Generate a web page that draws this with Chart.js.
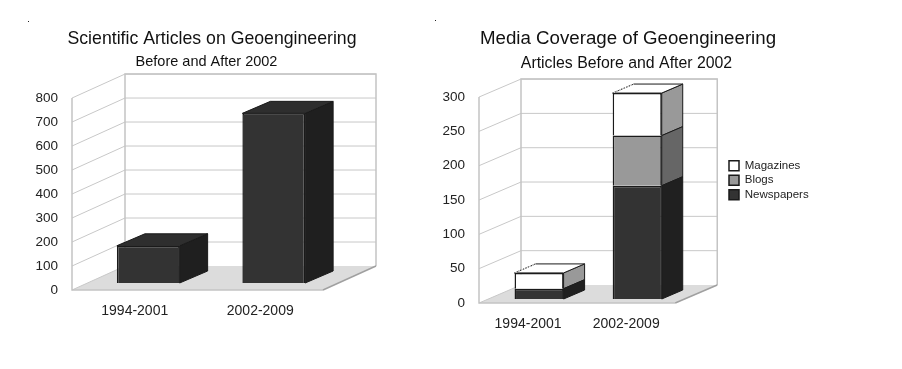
<!DOCTYPE html>
<html>
<head>
<meta charset="utf-8">
<title>Geoengineering charts</title>
<script src="https://cdn.jsdelivr.net/npm/chart.js@4"></script>
<style>
  html, body { margin: 0; padding: 0; background: #fff; }
  canvas { position: absolute; top: 0; }
  #leftChart { left: 0; }
  #rightChart { left: 436px; }
  .speck { position: absolute; width: 1px; height: 1px; background: #222; }
</style>
</head>
<body>
<canvas id="leftChart" width="424" height="369"></canvas>
<canvas id="rightChart" width="384" height="369"></canvas>
<div class="speck" style="left:28px;top:21px"></div>
<div class="speck" style="left:435px;top:20px"></div>

<script>
var periods = ["1994-2001", "2002-2009"];

var scientificArticles = [155, 707];
var scientificTicks = [0, 100, 200, 300, 400, 500, 600, 700, 800];

var newspapers = [15, 165];
var blogs = [0, 73];
var magazines = [23, 62];
var mediaTicks = [0, 50, 100, 150, 200, 250, 300];

// draws the fake 3D box: walls and floor behind, bar sides and tops, and moves the bars back a bit
var fake3d = {
  id: "fake3d",
  afterLayout: function (chart, args, opts) {
    // legend and titles get nudged to where they sit in the picture
    if (opts.legendAt && chart.legend) {
      chart.legend.left = opts.legendAt[0];
      chart.legend.right = opts.legendAt[0] + 120;
      chart.legend.top = opts.legendAt[1];
    }
    chart.boxes.forEach(function (box) {
      if (!box.options) return;
      var shift = 0;
      if (box.options.text === opts.titleText) shift = opts.titleShift;
      if (box.options.text === opts.subtitleText) shift = opts.subtitleShift;
      box.left += shift;
      box.right += shift;
    });
  },
  beforeDatasetsDraw: function (chart, args, opts) {
    var ctx = chart.ctx;
    var y = chart.scales.y;
    var area = chart.chartArea;
    var left = area.left, right = area.right;
    var y0 = y.getPixelForValue(y.min);
    var yMax = y.getPixelForValue(y.max);
    var dx = opts.wallDx, dy = opts.wallDy;

    ctx.save();
    // floor
    ctx.fillStyle = "#dcdcdc";
    poly(ctx, [[left, y0], [left + dx, y0 + dy], [right + dx, y0 + dy], [right, y0]]);
    ctx.fill();

    // grid on side wall and back wall
    ctx.strokeStyle = "#c8c8c8";
    ctx.lineWidth = 1;
    opts.ticks.forEach(function (t) {
      var py = y.getPixelForValue(t);
      ctx.beginPath();
      ctx.moveTo(left, py);
      ctx.lineTo(left + dx, py + dy);
      if (t !== y.min) ctx.lineTo(right + dx, py + dy);
      ctx.stroke();
    });

    // wall outlines
    ctx.strokeStyle = "#c4c4c4";
    ctx.lineWidth = 1.5;
    ctx.beginPath();
    ctx.moveTo(left + dx, y0 + dy);
    ctx.lineTo(left + dx, yMax + dy);
    ctx.lineTo(right + dx, yMax + dy);
    ctx.lineTo(right + dx, y0 + dy);
    ctx.stroke();
    ctx.beginPath();
    ctx.moveTo(left, yMax);
    ctx.lineTo(left, y0);
    ctx.lineTo(right, y0);
    ctx.stroke();
    ctx.strokeStyle = "#a0a0a0";
    ctx.beginPath();
    ctx.moveTo(right, y0);
    ctx.lineTo(right + dx, y0 + dy);
    ctx.stroke();

    // bar sides and tops
    var topDone = {};
    for (var d = chart.data.datasets.length - 1; d >= 0; d--) {
      var meta = chart.getDatasetMeta(d);
      meta.data.forEach(function (bar, i) {
        if (!chart.data.datasets[d].data[i]) return;
        var xr = bar.x + bar.width / 2 + opts.shiftX;
        var xl = bar.x - bar.width / 2 + opts.shiftX;
        var top = bar.y + opts.shiftY;
        var bottom = bar.base + opts.shiftY;
        ctx.lineWidth = 1;
        ctx.strokeStyle = "#1a1a1a";
        ctx.fillStyle = opts.sideColors[d];
        poly(ctx, [[xr, top], [xr + opts.sideDx, top + opts.sideDy], [xr + opts.sideDx, bottom + opts.sideDy], [xr, bottom]]);
        ctx.fill();
        ctx.stroke();
        if (!topDone[i]) {
          topDone[i] = true;
          ctx.fillStyle = opts.topColors[d];
          poly(ctx, [[xl, top], [xl + opts.sideDx, top + opts.sideDy], [xr + opts.sideDx, top + opts.sideDy], [xr, top]]);
          ctx.fill();
          ctx.stroke();
          if (opts.topColors[d] === "#ffffff") {
            // the white lid has a dotted left edge
            ctx.strokeStyle = "#ffffff";
            ctx.beginPath();
            ctx.moveTo(xl, top);
            ctx.lineTo(xl + opts.sideDx, top + opts.sideDy);
            ctx.stroke();
            ctx.strokeStyle = "#1a1a1a";
            ctx.setLineDash([1, 2]);
            ctx.stroke();
            ctx.setLineDash([]);
          }
        }
      });
    }
    ctx.restore();
  },
  beforeDatasetDraw: function (chart, args, opts) {
    chart.ctx.save();
    chart.ctx.translate(opts.shiftX, opts.shiftY);
  },
  afterDatasetDraw: function (chart) {
    chart.ctx.restore();
  }
};

function poly(ctx, pts) {
  ctx.beginPath();
  ctx.moveTo(pts[0][0], pts[0][1]);
  for (var i = 1; i < pts.length; i++) {
    ctx.lineTo(pts[i][0], pts[i][1]);
  }
  ctx.closePath();
}

function makeChart(id, cfg) {
  var ctx = document.getElementById(id);
  return new Chart(ctx, {
    type: "bar",
    data: { labels: periods, datasets: cfg.datasets },
    plugins: [fake3d],
    options: {
      responsive: false,
      animation: false,
      layout: { padding: { left: 0, top: 0, bottom: 0, right: cfg.paddingRight } },
      scales: {
        x: {
          stacked: true,
          grid: { display: false },
          border: { display: false },
          ticks: { padding: cfg.xTickPad, color: "#222", font: { family: "Liberation Sans", size: 14 }, maxRotation: 0 },
          afterFit: function (scale) { scale.height = 369 - cfg.bottom; }
        },
        y: {
          stacked: true,
          min: cfg.ticks[0],
          max: cfg.ticks[cfg.ticks.length - 1],
          grid: { display: false, drawTicks: false },
          border: { display: false },
          ticks: { stepSize: cfg.ticks[1] - cfg.ticks[0], padding: 14, color: "#222", font: { family: "Liberation Sans", size: 13.5 } },
          afterFit: function (scale) { scale.width = cfg.yWidth; }
        }
      },
      plugins: {
        title: {
          display: true,
          text: cfg.title,
          color: "#111",
          font: { family: "Liberation Sans", size: cfg.titleSize, weight: "normal" },
          padding: { top: cfg.titleTop, bottom: cfg.titleBottom }
        },
        subtitle: {
          display: true,
          text: cfg.subtitle,
          color: "#111",
          font: { family: "Liberation Sans", size: cfg.subtitleSize, weight: "normal" },
          padding: { top: 0, bottom: cfg.subtitlePad }
        },
        legend: cfg.legend,
        tooltip: { enabled: false },
        fake3d: {
          ticks: cfg.ticks,
          wallDx: cfg.wallDx, wallDy: cfg.wallDy,
          shiftX: cfg.shiftX, shiftY: cfg.shiftY,
          sideDx: cfg.sideDx, sideDy: cfg.sideDy,
          sideColors: cfg.sideColors, topColors: cfg.topColors,
          legendAt: cfg.legendAt,
          titleText: cfg.title, titleShift: cfg.titleShift,
          subtitleText: cfg.subtitle, subtitleShift: cfg.subtitleShift
        }
      }
    }
  });
}

function barSet(label, values, color) {
  return {
    label: label,
    data: values,
    backgroundColor: color,
    borderColor: "#1a1a1a",
    borderWidth: 1.5,
    categoryPercentage: 0.5,
    barPercentage: 1
  };
}

makeChart("leftChart", {
  title: "Scientific Articles on Geoengineering",
  subtitle: "Before and After 2002",
  titleSize: 17.7, subtitleSize: 14.5,
  titleTop: 28.5, titleBottom: 3.6,
  titleShift: 50.5, subtitleShift: 45,
  subtitlePad: 27.3,
  datasets: [barSet("Articles", scientificArticles, "#333333")],
  ticks: scientificTicks,
  yWidth: 72, bottom: 290, paddingRight: 101, xTickPad: 5,
  wallDx: 53, wallDy: -24,
  shiftX: 13.5, shiftY: -7,
  sideDx: 28, sideDy: -12,
  sideColors: ["#1f1f1f"], topColors: ["#2e2e2e"],
  legend: { display: false }
});

makeChart("rightChart", {
  title: "Media Coverage of Geoengineering",
  subtitle: "Articles Before and After 2002",
  titleSize: 18.7, subtitleSize: 15.85,
  titleTop: 28, titleBottom: 4,
  titleShift: 32.5, subtitleShift: 31,
  subtitlePad: 23.6,
  datasets: [
    barSet("Newspapers", newspapers, "#333333"),
    barSet("Blogs", blogs, "#999999"),
    barSet("Magazines", magazines, "#ffffff")
  ],
  ticks: mediaTicks,
  yWidth: 43, bottom: 303, paddingRight: 65, xTickPad: 4.5,
  wallDx: 42, wallDy: -18,
  shiftX: 11, shiftY: -4,
  sideDx: 21, sideDy: -9,
  sideColors: ["#202020", "#666666", "#999999"], topColors: ["#2e2e2e", "#666666", "#ffffff"],
  legendAt: [290, 157],
  legend: {
    display: true,
    position: "right",
    align: "start",
    reverse: true,
    labels: {
      boxWidth: 10,
      boxHeight: 10,
      padding: 3,
      color: "#222",
      font: { family: "Liberation Sans", size: 11.5 }
    }
  }
});
</script>
</body>
</html>
